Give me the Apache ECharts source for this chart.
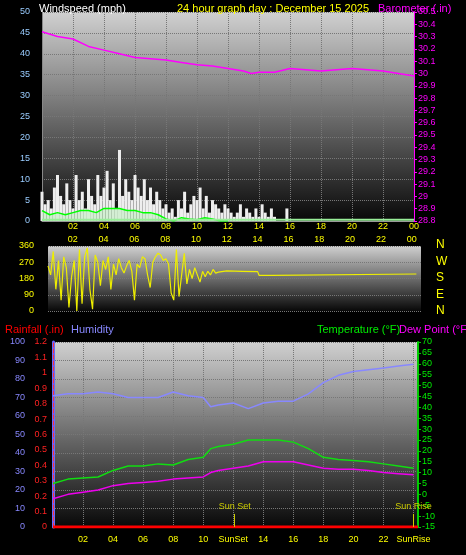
<!DOCTYPE html>
<html><head><meta charset="utf-8">
<script src="https://cdn.jsdelivr.net/npm/echarts@6/dist/echarts.min.js"></script>
<style>html,body{margin:0;background:#000}#c{width:466px;height:555px}</style>
</head><body><div id="c"></div>
<script>
// wind gust (mph), every 0.2 h from 0 to 16
var gust = [7,4,5,3,8,11,6,4,9,5, 3,11,5,7,3,10,6,4,11,6, 8,12,5,9,3,17,6,10,7,5, 11,8,6,10,5,8,4,7,5,3, 4,2,3,1,5,3,7,2,4,6, 5,8,3,6,2,5,4,3,2,4, 3,2,1,2,4,1,3,2,1,3, 1,4,2,1,3,1,0,0,0,3];
// wind average (mph), every 0.5 h from 0 to 12
var windAvg = [2.5,1.5,2,1.5,2,2.5,2.5,2,3,3,3,2.5,2.5,2,2,1.5,0.5,0,0.8,0.5,0.3,0.8,0.5,0,0];
var baroTimes = [0,1,2,3,4,5,6,7,8,9,10,11,12,13,13.5,14,15,16,17,18,19,20,21,22,23,24];
var baro = [30.34,30.3,30.28,30.22,30.19,30.16,30.13,30.12,30.11,30.09,30.07,30.06,30.04,30.02,30.0,30.01,30.01,30.04,30.03,30.02,30.03,30.04,30.03,30.02,30.0,29.98];
// wind direction (deg), every 0.17 h from 0.4 to 11, then steady
var dir = [250,200,330,120,280,60,300,240,20,190, 280,0,340,40,300,350,120,10,310,270, 140,280,230,300,120,260,200,290,240,210, 250,280,220,60,260,240,300,290,200,130, 270,300,320,310,280,290,260,100,60,340, 80,200,320,150,230,180,240,200,160,220, 190,220,200,230,210, 215];
var dirLater = [[11.5,225],[12,222],[13,220],[14,218],[14.1,197],[14.9,197],[15,205],[24.3,205]];
var hTimes = [0,1,2,3,4,5,6,7,8,9,10,10.5,11,12,13,14,15,16,17,18,19,20,21,22,23,24];
var humidity = [71,72,72,73,72,70,70,70,73,71,70,65,66,67,64,67,68,68,72,78,82,84,85,86,87,88];
var temp = [5,7,7.5,8,11,13,13,14,13.5,16,17,21,22,23,25,25,25,24,21,17,16,15.5,15,14,13,12];
var dew = [-2,0,1,2,4,5,5.5,6,7,7.5,8,10,11,12,13,15,15,15,13.5,12,11.5,11.5,11,10,9.5,9];
var sunSet = 12.1, sunRise = 24;

function steps(arr, dt, t0) { return arr.map(function (v, i) { return [+((t0 || 0) + i * dt).toFixed(2), v]; }); }
var bg = new echarts.graphic.LinearGradient(0, 0, 0, 1, [{offset: 0, color: '#d0d0d0'}, {offset: 1, color: '#080808'}]);
var tf = {fontFamily: 'Liberation Sans', fontSize: 9};
var titleStyle = function (c) { return {color: c, fontSize: 11, fontWeight: 'normal', fontFamily: 'Liberation Sans'}; };
var hourLabel = function (v) { return v === 24 ? '00' : (v < 10 ? '0' + v : '' + v); };
var split = {show: true, lineStyle: {color: '#777', type: 'dotted'}};

var myChart = echarts.init(document.getElementById('c'));
var option = {
  backgroundColor: '#000',
  animation: false,
  title: [
    {text: 'Windspeed (mph)', left: 34, top: -2, textStyle: titleStyle('#fff')},
    {text: '24 hour graph day : December 15 2025', left: 172, top: -2, textStyle: titleStyle('#ff0')},
    {text: 'Barometer (.in)', left: 373, top: -2, textStyle: titleStyle('#f0f')},
    {text: 'Rainfall (.in)', left: 0, top: 319, textStyle: titleStyle('#f00')},
    {text: 'Humidity', left: 66, top: 319, textStyle: titleStyle('#88f')},
    {text: 'Temperature (°F)', left: 312, top: 319, textStyle: titleStyle('#0e0')},
    {text: 'Dew Point (°F)', left: 394, top: 319, textStyle: titleStyle('#f0f')}
  ],
  graphic: ['N', 'W', 'S', 'E', 'N'].map(function (t, i) {
    return {type: 'text', left: 436, top: 239 + i * 16.5, style: {text: t, fill: '#ff0', font: '12px Liberation Sans'}};
  }),
  grid: [
    {left: 42, right: 52, top: 12, height: 209, show: true, backgroundColor: bg, borderWidth: 0},
    {left: 48, right: 45, top: 246, height: 65, show: true, backgroundColor: bg, borderWidth: 0},
    {left: 53, right: 48, top: 342, height: 185, show: true, backgroundColor: bg, borderWidth: 0}
  ],
  xAxis: [
    {gridIndex: 0, type: 'value', min: 0, max: 24, interval: 2, axisLine: {lineStyle: {color: '#999'}}, axisTick: {show: false},
      axisLabel: Object.assign({color: '#ff0', margin: 1, formatter: function (v) { return v === 0 ? '' : hourLabel(v); }}, tf), splitLine: split},
    {gridIndex: 1, type: 'value', min: 0.4, max: 24.6, interval: 2, position: 'top', axisLine: {show: false}, axisTick: {show: false},
      axisLabel: {show: false}, splitLine: {show: false}},
    {gridIndex: 2, type: 'value', min: 0, max: 24.3, interval: 2, axisLine: {lineStyle: {color: '#999'}}, axisTick: {show: false},
      axisLabel: Object.assign({color: '#ff0', showMaxLabel: false, formatter: function (v) { return v === 0 ? '' : v === 12 ? 'SunSet' : v === 24 ? 'SunRise' : hourLabel(v); }}, tf), splitLine: split},
    {gridIndex: 1, type: 'value', min: 0.4, max: 24.6, position: 'top', axisLine: {show: false}, axisTick: {show: false}, splitLine: {show: false},
      axisLabel: Object.assign({color: '#ff0', margin: 2, customValues: [2, 4, 6, 8, 10, 12, 14, 16, 18, 20, 22, 24], formatter: hourLabel}, tf)}
  ],
  yAxis: [
    {gridIndex: 0, type: 'value', min: 0, max: 50, interval: 5, axisLine: {show: true, lineStyle: {color: '#888'}}, axisTick: {show: false},
      axisLabel: Object.assign({color: '#9cf', margin: 12}, tf), splitLine: split},
    {gridIndex: 0, type: 'value', min: 28.8, max: 30.5, interval: 0.1, position: 'right', axisLine: {show: true, lineStyle: {color: '#f0f'}},
      axisTick: {show: true, length: 3}, axisLabel: Object.assign({color: '#f0f', margin: 4, formatter: function (v) { return +v.toFixed(1) + ''; }}, tf), splitLine: {show: false}},
    {gridIndex: 1, type: 'value', min: 0, max: 360, interval: 90, axisLine: {show: false}, axisTick: {show: false},
      axisLabel: Object.assign({color: '#ff0', margin: 14}, tf), splitLine: split},
    {gridIndex: 2, type: 'value', min: 0, max: 100, interval: 10, position: 'left', offset: 22, axisLine: {show: true, lineStyle: {color: '#66f', width: 3}},
      axisTick: {show: false}, axisLabel: Object.assign({color: '#88f', margin: 6}, tf), splitLine: split},
    {gridIndex: 2, type: 'value', min: 0, max: 1.2, interval: 0.1, position: 'left', offset: 0, axisLine: {show: true, lineStyle: {color: '#f33', type: 'dashed'}},
      axisTick: {show: false}, axisLabel: Object.assign({color: '#f22', margin: 6, formatter: function (v) { return +v.toFixed(1) + ''; }}, tf), splitLine: {show: false}},
    {gridIndex: 2, type: 'value', min: -15, max: 70, interval: 5, position: 'right', axisLine: {show: true, lineStyle: {color: '#0c0', width: 2}},
      axisTick: {show: true, length: 3}, axisLabel: Object.assign({color: '#0e0', margin: 4}, tf), splitLine: {show: false}}
  ],
  series: [
    {type: 'bar', xAxisIndex: 0, yAxisIndex: 0, data: steps(gust, 0.2), barWidth: 3, itemStyle: {color: '#eee'}},
    {type: 'line', xAxisIndex: 0, yAxisIndex: 0, data: steps(windAvg, 0.5), symbol: 'none', lineStyle: {color: '#0f0', width: 1.5},
      areaStyle: {color: 'rgba(170,240,170,0.55)'}},
    {type: 'line', xAxisIndex: 0, yAxisIndex: 0, data: [[0, 0.3], [24, 0.3]], symbol: 'none', lineStyle: {color: '#9e9', width: 2}},
    {type: 'line', xAxisIndex: 0, yAxisIndex: 1, data: baroTimes.map(function (t, i) { return [t, baro[i]]; }), symbol: 'none', lineStyle: {color: '#f0f', width: 1.5}},
    {type: 'line', xAxisIndex: 1, yAxisIndex: 2, data: steps(dir, 0.17, 0.4).concat(dirLater), symbol: 'none', lineStyle: {color: '#ee0', width: 1.2}},
    {type: 'line', xAxisIndex: 2, yAxisIndex: 3, data: hTimes.map(function (t, i) { return [t, humidity[i]]; }), symbol: 'none', lineStyle: {color: '#88f', width: 1.5}},
    {type: 'line', xAxisIndex: 2, yAxisIndex: 4, data: [[0, 0], [24.3, 0]], symbol: 'none', lineStyle: {color: '#f00', width: 3}},
    {type: 'line', xAxisIndex: 2, yAxisIndex: 5, data: hTimes.map(function (t, i) { return [t, temp[i]]; }), symbol: 'none', lineStyle: {color: '#1d1', width: 1.5},
      markLine: {symbol: 'none', silent: true, lineStyle: {color: '#cc0', type: 'solid', width: 1},
        label: {show: true, position: 'start', formatter: '{b}', color: '#cc0', fontSize: 9, fontFamily: 'Liberation Sans', distance: 3},
        data: [
          [{coord: [sunSet, -9], name: 'Sun Set'}, {coord: [sunSet, -15]}],
          [{coord: [sunRise, -9], name: 'Sun Rise'}, {coord: [sunRise, -15]}]
        ]}},
    {type: 'line', xAxisIndex: 2, yAxisIndex: 5, data: hTimes.map(function (t, i) { return [t, dew[i]]; }), symbol: 'none', lineStyle: {color: '#e0e', width: 1.5}}
  ]
};
myChart.setOption(option);
</script></body></html>
